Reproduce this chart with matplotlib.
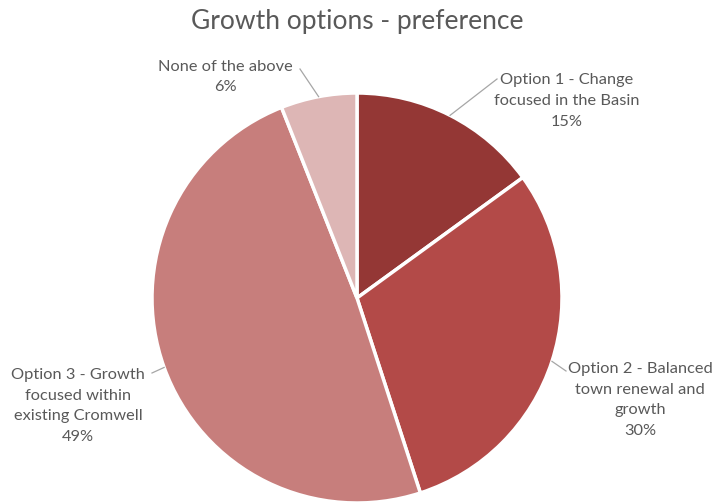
import numpy as np
import matplotlib.pyplot as plt

plt.rcParams['font.family'] = ['Lato', 'DejaVu Sans']

# data
labels = ["Option 1 - Change\nfocused in the Basin",
          "Option 2 - Balanced\ntown renewal and\ngrowth",
          "Option 3 - Growth\nfocused within\nexisting Cromwell",
          "None of the above"]
shares = [15, 30, 49, 6]
colors = ["#943735", "#B34A48", "#C77E7C", "#DDB6B5"]

W, H = 714, 504
cx, cy, r = 357, H - 298, 205

fig = plt.figure(figsize=(W / 100, H / 100), dpi=100)
ax = fig.add_axes([0, 0, 1, 1])

wedges, _ = ax.pie(shares, colors=colors, startangle=90, counterclock=False,
                   center=(cx, cy), radius=r,
                   wedgeprops=dict(edgecolor='white', linewidth=2.5))
ax.set_xlim(0, W)
ax.set_ylim(0, H)
ax.set_aspect('equal')
ax.axis('off')

ax.text(W / 2, H - 21, "Growth options - preference", ha='center', va='center',
        fontsize=19, color='#595959')

# label layout: text centre (pixels from top-left) and leader line start
text_pos = [(567, 101), (640, 400), (78, 406), (225, 77)]
line_start = [(497, 79), (566, 371), (152, 373), (300, 69)]
grey = '#595959'

for w, lab, s, tp, ls in zip(wedges, labels, shares, text_pos, line_start):
    mid = np.deg2rad((w.theta1 + w.theta2) / 2)
    ex, ey = cx + r * np.cos(mid), cy + r * np.sin(mid)
    ax.text(tp[0], H - tp[1], f"{lab}\n{s}%", ha='center', va='center',
            fontsize=11.8, color=grey, linespacing=1.62)
    ax.plot([ls[0], ex], [H - ls[1], ey], color='#A6A6A6', lw=0.9)

fig.savefig("out.png", dpi=100)
